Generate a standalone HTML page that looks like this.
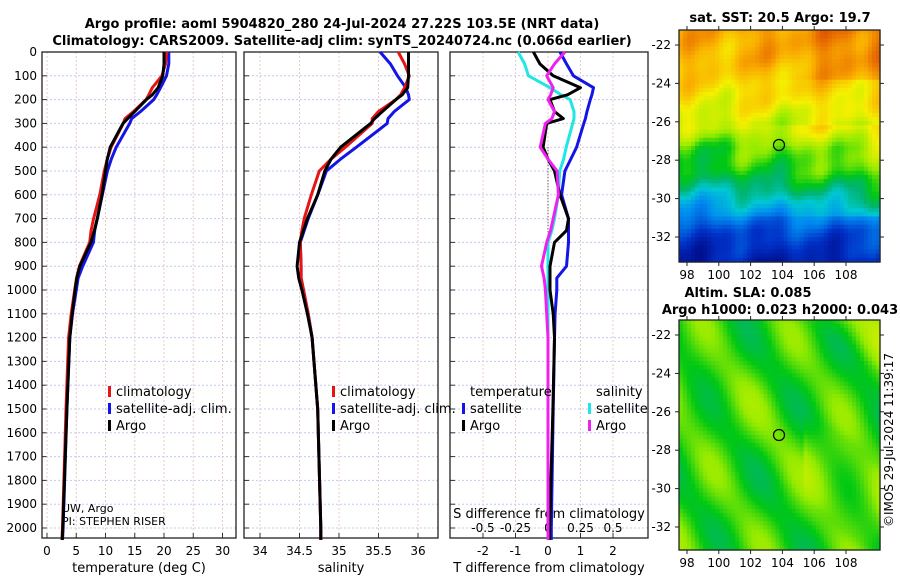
<!DOCTYPE html>
<html><head><meta charset="utf-8"><style>
body{margin:0;background:#fff}
svg{font-family:"DejaVu Sans","Liberation Sans",sans-serif}
</style></head><body>
<svg id="c" width="900" height="580" xmlns="http://www.w3.org/2000/svg">
<g font-weight="bold" font-size="13" text-anchor="middle" fill="#000">
<text x="342" y="28">Argo profile: aoml 5904820_280 24-Jul-2024 27.22S 103.5E (NRT data)</text>
<text x="342" y="45">Climatology: CARS2009. Satellite-adj clim: synTS_20240724.nc (0.066d earlier)</text>
<text x="780" y="22">sat. SST: 20.5 Argo: 19.7</text>
<text x="748" y="297">Altim. SLA: 0.085</text>
<text x="780" y="314">Argo h1000: 0.023 h2000: 0.043</text>
</g>
<text transform="translate(893,440) rotate(-90)" font-size="12" text-anchor="middle">©IMOS 29-Jul-2024 11:39:17</text>
<g id="layer"></g>
</svg>
<script>
const depths=[0,50,100,150,180,200,250,280,300,400,450,500,600,700,750,800,900,950,1000,1100,1200,1500,2000,2050];
const climT=[20.45,20.25,19.64,18,17.4,16.94,14.8,13.33,13.04,10.95,10.3,9.8,9.03,7.97,7.53,7.3,5.54,5.04,4.74,4.14,3.7,3.25,2.65,2.55];
const dTargo=[-0.45,-0.25,0.16,1.0,0.6,0.06,0.2,0.47,-0.04,-0.15,0,0.2,0.37,0.63,0.57,0.2,0.06,0.06,0.06,0.16,0.2,0.15,0.05,0.05];
const dTsat=[0.37,0.57,0.78,1.4,1.35,1.3,1.2,1.15,1.1,0.88,0.7,0.52,0.42,0.63,0.63,0.63,0.57,0.27,0.27,0.22,0.2,0.16,0.1,0.1];
const argoS=[35.88,35.88,35.88,35.87,35.8,35.72,35.55,35.45,35.4,35.02,34.9,34.82,34.73,34.6,34.55,34.5,34.47,34.49,34.53,34.6,34.66,34.73,34.77,34.77];
const dSargo=[0.13,0.05,-0.01,0.04,0.02,0,0.05,0.03,-0.02,-0.06,0,0.07,0.08,0.04,0.02,-0.01,-0.05,-0.03,-0.02,-0.01,0,0,0,0];
const dSsat=[-0.23,-0.18,-0.15,0.015,0.1,0.17,0.2,0.2,0.19,0.14,0.12,0.09,0.08,0.05,0.03,0,0,0,0,0,0,0,0,0];
const depthTicks=[0,100,200,300,400,500,600,700,800,900,1000,1100,1200,1300,1400,1500,1600,1700,1800,1900,2000];
const tTicks=[0,5,10,15,20,25,30];
const sTicks=[34,34.5,35,35.5,36];
const sTickLabels=['34','34.5','35','35.5','36'];
const dtTicks=[-2,-1,0,1,2];
const dsTicks=[-0.5,-0.25,0,0.25,0.5];
const dsTickLabels=['-0.5','-0.25','0','0.25','0.5'];
const latTicks=[-22,-24,-26,-28,-30,-32];
const lonTicks=[98,100,102,104,106,108];
const sstProfY=[0,0.12,0.3,0.42,0.5,0.6,0.68,0.76,0.86,1];
const sstProfV=[0.8,0.78,0.7,0.63,0.54,0.49,0.4,0.3,0.17,0.08];

const NS='http://www.w3.org/2000/svg';
const L=document.getElementById('layer');
function mk(t,a,p){const e=document.createElementNS(NS,t);for(const k in a)e.setAttribute(k,a[k]);(p||L).appendChild(e);return e;}
const Y0=52,Y1=538;
const yD=d=>52+d*0.238;
const xT=v=>47+v*5.85;
const xS=v=>260+(v-34)*79;
const xDT=v=>548+v*32.5;
const xDS=v=>548+v*130;
const panels=[[42,236],[244,438],[450,648]];
const names=['temperature','salinity','difference'];
panels.forEach((p,i)=>{
  const g=mk('g',{});
  
  
  depthTicks.forEach(d=>{mk('line',{x1:p[0],x2:p[1],y1:yD(d),y2:yD(d),stroke:'#c8c8f0','stroke-width':1,'stroke-dasharray':'2,2'},g);
    mk('line',{x1:p[0],x2:p[0]+5,y1:yD(d),y2:yD(d),stroke:'#333'},g);});
  let xs=i==0?tTicks.map(xT):i==1?sTicks.map(xS):dtTicks.map(xDT);
  xs.forEach(x=>{mk('line',{x1:x,x2:x,y1:Y0,y2:Y1,stroke:'#e8c8c8','stroke-width':1,'stroke-dasharray':'2,2'},g);
    mk('line',{x1:x,x2:x,y1:Y1,y2:Y1-5,stroke:'#333'},g);});
  mk('rect',{x:p[0],y:Y0,width:p[1]-p[0],height:Y1-Y0,fill:'none',stroke:'#222','stroke-width':1.3},g);
});
depthTicks.forEach(d=>{const t=mk('text',{x:37,y:yD(d)+4,'font-size':12,'text-anchor':'end'});t.textContent=d;
  });
function xlabels(ticks,labs,f,y){ticks.forEach((v,i)=>{const t=mk('text',{x:f(v),y:y,'font-size':12,'text-anchor':'middle'});t.textContent=labs[i];
  });}
xlabels(tTicks,tTicks.map(String),xT,555);
xlabels(sTicks,sTickLabels,xS,555);
xlabels(dtTicks,dtTicks.map(String),xDT,555);
xlabels(dsTicks,dsTickLabels,xDS,532);
[['temperature (deg C)',139,572,'temperature-axis-title'],['salinity',341,572,'salinity-axis-title'],['T difference from climatology',549,572,'t-difference-axis-title'],['S difference from climatology',549,518,'s-difference-axis-title']].forEach(a=>{
  const t=mk('text',{x:a[1],y:a[2],'font-size':13,'text-anchor':'middle'});t.textContent=a[0];
  });
[['UW, Argo',512],['PI: STEPHEN RISER',525]].forEach(a=>{const t=mk('text',{x:62,y:a[1],'font-size':11});t.textContent=a[0];
  });

function line(vals,fx,col,nm){
  const pts=vals.map((v,i)=>fx(v).toFixed(1)+','+yD(depths[i]).toFixed(1)).join(' ');
  const e=mk('polyline',{points:pts,fill:'none',stroke:col,'stroke-width':3,'stroke-linejoin':'round'});
  
  
}
const argoT=climT.map((v,i)=>v+dTargo[i]);
const satT=climT.map((v,i)=>v+dTsat[i]);
const climS=argoS.map((v,i)=>v-dSargo[i]);
const satS=climS.map((v,i)=>v+dSsat[i]);
line(satT,xT,'#1414e6','temperature-satellite-line');
line(climT,xT,'#e61414','temperature-climatology-line');
line(argoT,xT,'#000','temperature-argo-line');
line(satS,xS,'#1414e6','salinity-satellite-line');
line(climS,xS,'#e61414','salinity-climatology-line');
line(argoS,xS,'#000','salinity-argo-line');
mk('line',{x1:548,x2:548,y1:yD(400),y2:yD(800),stroke:'#333','stroke-dasharray':'1,2'});
line(dSsat,xDS,'#22e6e6','s-diff-satellite-line');
line(dTsat,xDT,'#1414e6','t-diff-satellite-line');
line(dTargo,xDT,'#000','t-diff-argo-line');
line(dSargo,xDS,'#ee22ee','s-diff-argo-line');

function leg(x,y,col,txt,nm){
  if(col){mk('rect',{x:x,y:y-10,width:3,height:11,fill:col});}
  const t=mk('text',{x:x+8,y:y,'font-size':13});t.textContent=txt;
  
}
[[108,'#e61414','climatology'],[108,'#1414e6','satellite-adj. clim.'],[108,'#000','Argo']].forEach((a,i)=>leg(a[0],396+i*17,a[1],a[2],'legend-entry'));
[[332,'#e61414','climatology'],[332,'#1414e6','satellite-adj. clim.'],[332,'#000','Argo']].forEach((a,i)=>leg(a[0],396+i*17,a[1],a[2],'legend-entry'));
leg(462,396,null,'temperature','legend-header');
leg(462,413,'#1414e6','satellite','legend-entry');
leg(462,430,'#000','Argo','legend-entry');
leg(588,396,null,'salinity','legend-header');
leg(588,413,'#22e6e6','satellite','legend-entry');
leg(588,430,'#ee22ee','Argo','legend-entry');

// maps
const cstops=[[0,[0,0,120]],[0.15,[0,50,200]],[0.28,[0,140,240]],[0.38,[0,200,210]],[0.45,[0,180,110]],[0.52,[0,200,20]],[0.6,[150,235,0]],[0.7,[245,240,0]],[0.8,[250,175,0]],[0.9,[230,100,0]],[1,[170,25,0]]];
function cmap(t){t=Math.max(0,Math.min(1,t));
  for(let k=1;k<cstops.length;k++){if(t<=cstops[k][0]){const a=cstops[k-1],b=cstops[k],f=(t-a[0])/(b[0]-a[0]);
    return 'rgb('+a[1].map((c,j)=>Math.round(c+(b[1][j]-c)*f)).join(',')+')';}}
  return 'rgb(170,25,0)';}
function prof(y){for(let k=1;k<sstProfY.length;k++){if(y<=sstProfY[k]){const f=(y-sstProfY[k-1])/(sstProfY[k]-sstProfY[k-1]);return sstProfV[k-1]+(sstProfV[k]-sstProfV[k-1])*f;}}return sstProfV[sstProfV.length-1];}
function map(x0,y0,w,h,fn,nm,lat0y){
  const g=mk('g',{});
  const nx=50,ny=56,cw=w/nx,ch=h/ny;
  for(let j=0;j<ny;j++)for(let i=0;i<nx;i++){
    mk('rect',{x:(x0+i*cw).toFixed(2),y:(y0+j*ch).toFixed(2),width:(cw+0.6).toFixed(2),height:(ch+0.6).toFixed(2),fill:cmap(fn(i/nx,j/ny))},g);}
  mk('rect',{x:x0,y:y0,width:w,height:h,fill:'none',stroke:'#222','stroke-width':1.3},g);
  const lonX=v=>687+(v-98)*15.9;
  lonTicks.forEach(v=>{mk('line',{x1:lonX(v),x2:lonX(v),y1:y0+h,y2:y0+h+4,stroke:'#222'},g);mk('line',{x1:lonX(v),x2:lonX(v),y1:y0,y2:y0-4,stroke:'#222'},g);
    const t=mk('text',{x:lonX(v),y:y0+h+17,'font-size':12,'text-anchor':'middle'},g);t.textContent=v;});
  latTicks.forEach(v=>{const y=lat0y+(-22-v)*19.2;mk('line',{x1:x0-4,x2:x0,y1:y,y2:y,stroke:'#222'},g);mk('line',{x1:x0+w,x2:x0+w+4,y1:y,y2:y,stroke:'#222'},g);
    const t=mk('text',{x:x0-8,y:y+4,'font-size':12,'text-anchor':'end'},g);t.textContent=v;});
  const c=mk('circle',{cx:779,cy:y0+115,r:5.5,fill:'none',stroke:'#000','stroke-width':1.2},g);
  
}
map(679,30,201,232,(x,y)=>prof(y)+0.08*x*(y>0.4&&y<0.8?1:0.3)+(y<0.2?0.1*Math.max(0,x-0.4):0)+0.035*Math.sin(x*19+y*3)+0.025*Math.sin(y*31+x*11)+0.015*Math.sin(x*47),'sst-map',45);
map(679,320,201,230,(x,y)=>0.54+0.05*Math.sin((x*2.2-y*1.6)*7)+0.02*Math.sin(x*13+y*9)+0.05*Math.max(0,Math.sin(y*8-x*5))*(x>0.6?1:0.3),'sla-map',335);
</script>
</body></html>
